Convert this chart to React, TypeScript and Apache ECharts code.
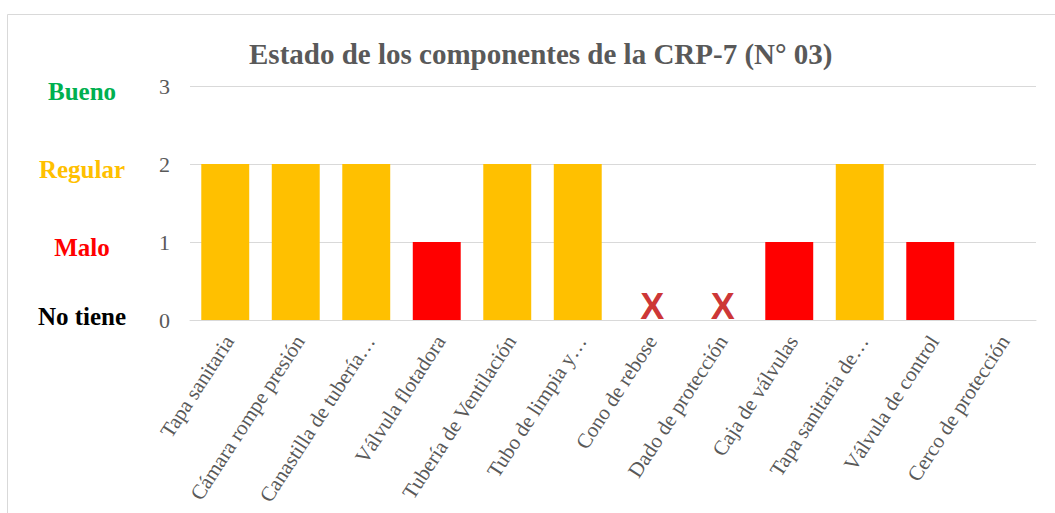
import React, { useEffect, useRef } from "react";
import * as echarts from "echarts";

const categories = [
  "Tapa sanitaria",
  "Cámara rompe presión",
  "Canastilla de tubería…",
  "Válvula flotadora",
  "Tubería de Ventilación",
  "Tubo de limpia y…",
  "Cono de rebose",
  "Dado de protección",
  "Caja de válvulas",
  "Tapa sanitaria de…",
  "Válvula de control",
  "Cerco de protección",
];
const values: (number | null)[] = [2, 2, 2, 1, 2, 2, 0, 0, 1, 2, 1, null];
const yTicks = [0, 1, 2, 3];
const yNames = ["No tiene", "Malo", "Regular", "Bueno"];
const yNameColors = ["#000000", "#FF0000", "#FFC000", "#00B050"];
const barColors: Record<number, string> = { 1: "#FF0000", 2: "#FFC000", 3: "#00B050" };
const titleText = "Estado de los componentes de la CRP-7 (N° 03)";

export default function App() {
  const ref = useRef<HTMLDivElement>(null);
  useEffect(() => {
    if (!ref.current) return;
    const chart = echarts.init(ref.current, null, { renderer: "svg" });
    const rich: any = {
      v: { fontSize: 22, color: "#595959", fontFamily: "Liberation Serif", width: 38, align: "right" },
    };
    yTicks.forEach((t) => {
      rich["n" + t] = {
        fontSize: 25,
        fontWeight: "bold",
        fontFamily: "Liberation Serif",
        color: yNameColors[t],
        width: 100,
        align: "center",
        padding: t === 0 ? [0, 0, 8, 0] : [11, 0, 0, 0],
      };
    });
    chart.setOption({
      animation: false,
      backgroundColor: "#ffffff",
      title: {
        text: titleText,
        left: 244,
        top: 34,
        textStyle: { fontFamily: "Liberation Serif", fontWeight: "bold", fontSize: 29, color: "#595959" },
      },
      graphic: [
        {
          type: "rect",
          z: -1,
          silent: true,
          shape: { x: 7.5, y: 14.5, width: 1100, height: 600 },
          style: { fill: "none", stroke: "#D9D9D9", lineWidth: 1 },
        },
      ],
      grid: { left: 190, right: 19, top: 86, bottom: 193, containLabel: false },
      xAxis: {
        type: "category",
        data: categories,
        axisTick: { show: false },
        axisLine: { lineStyle: { color: "#D9D9D9", width: 1 } },
        axisLabel: {
          interval: 0,
          rotate: 57,
          margin: 15,
          lineHeight: 9,
          formatter: (v: string) => "\n" + v,
          fontFamily: "Liberation Serif",
          fontSize: 21,
          color: "#595959",
        },
      },
      yAxis: {
        type: "value",
        min: 0,
        max: 3,
        interval: 1,
        axisLine: { show: false },
        axisTick: { show: false },
        splitLine: { lineStyle: { color: "#D9D9D9", width: 1 } },
        axisLabel: {
          margin: 20,
          formatter: (v: number) => `{n${v}|${yNames[v]}}{v|${v}}`,
          rich,
        },
      },
      series: [
        {
          type: "bar",
          barCategoryGap: "32%",
          data: values.map((v) =>
            v === null || v === 0 ? null : { value: v, itemStyle: { color: barColors[v] } }
          ),
        },
        {
          type: "scatter",
          symbolSize: 0,
          data: values.map((v) => (v === 0 ? 0 : null)),
          label: {
            show: true,
            position: "top",
            distance: 0,
            offset: [4, 4],
            formatter: "X",
            fontFamily: "Liberation Sans",
            fontWeight: "bold",
            fontSize: 36,
            color: "#C00000",
          },
        },
      ],
    });
    return () => chart.dispose();
  }, []);
  return (
    <div
      ref={ref}
      style={{ position: "fixed", left: 0, top: 0, width: 1055, height: 513 }}
    />
  );
}
